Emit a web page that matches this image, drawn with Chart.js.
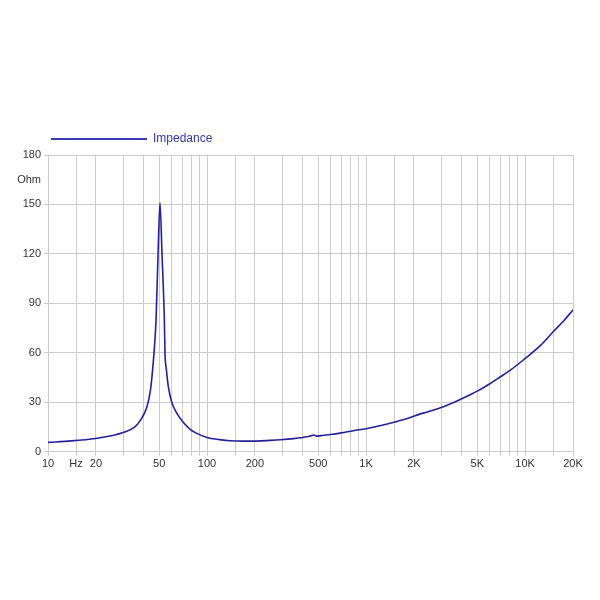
<!DOCTYPE html>
<html lang="en">

<head>
    <meta charset="UTF-8">
    <title>Impedance</title>
    <script src="https://cdn.jsdelivr.net/npm/chart.js@4.4.0/dist/chart.umd.min.js"></script>
    <style>
        html, body { margin: 0; padding: 0; background: #fff; }
        #wrap { width: 600px; height: 600px; }
    </style>
</head>

<body>
    <div id="wrap"><canvas id="chart" width="600" height="600"></canvas></div>

    <script>
        // data
        const freqs = [10, 14, 20, 25, 30, 35, 38, 41.8, 44, 45, 46.4, 47.8, 49.2, 50.6, 52.1, 53.9, 54.4, 55.5, 57, 60, 65, 70, 78, 85, 100, 120, 140, 170, 205, 250, 290, 350, 400, 440, 468, 490, 520, 600, 700, 830, 1000, 1200, 1500, 1800, 2200, 2400, 2600, 3000, 3400, 4000, 5000, 6000, 7000, 8000, 10000, 12500, 15000, 17500, 20000]
        const impedance = [5.7, 6.6, 8.1, 9.7, 11.8, 15, 18.9, 27, 37, 45, 60, 80, 120, 151, 120, 80, 60, 50, 40, 30, 23, 18.5, 13.8, 11.5, 8.7, 7.4, 6.7, 6.5, 6.5, 6.9, 7.3, 8, 8.7, 9.4, 10.2, 9.5, 9.8, 10.5, 11.5, 12.8, 14, 15.6, 17.9, 20, 23, 24, 25, 27, 29.1, 32.2, 36.8, 41.3, 45.5, 49.2, 56.6, 64.5, 72.8, 79.5, 86]

        const xTicks = [10, 15, 20, 30, 40, 50, 60, 70, 80, 90, 100, 150, 200, 300, 400, 500, 600, 700, 800, 900,
            1000, 1500, 2000, 3000, 4000, 5000, 6000, 7000, 8000, 9000, 10000, 15000, 20000]
        const xLabels = { 10: '10', 15: 'Hz', 20: '20', 50: '50', 100: '100', 200: '200', 500: '500', 1000: '1K', 2000: '2K', 5000: '5K', 10000: '10K', 20000: '20K' }
        const yTicks = [0, 30, 60, 90, 120, 150, 165, 180]
        const yLabels = { 165: 'Ohm' }

        const gridColor = '#cccccc'
        const points = freqs.map((f, i) => ({ x: f, y: impedance[i] }))

        const ctx = document.getElementById('chart').getContext('2d');
        const myChart = new Chart(ctx, {
            type: 'line',
            data: {
                datasets: [{
                    label: 'Impedance',
                    data: points,
                    borderColor: '#22229a',
                    backgroundColor: '#3535b0',
                    borderWidth: 1.6,
                    pointRadius: 0,
                    cubicInterpolationMode: 'monotone'
                }]
            },
            options: {
                responsive: false,
                animation: false,
                layout: { padding: { left: 0, right: 27, top: 130, bottom: 127 } },
                plugins: {
                    legend: {
                        align: 'start',
                        fullSize: false,
                        labels: {
                            boxWidth: 96,
                            boxHeight: 2,
                            padding: 3,
                            color: '#3535b0',
                            font: { family: 'Liberation Sans', size: 12 },
                            generateLabels: chart => Chart.defaults.plugins.legend.labels.generateLabels(chart)
                                .map(l => Object.assign(l, { lineWidth: 0, fillStyle: '#3a3ab4' }))
                        }
                    },
                    tooltip: { enabled: false }
                },
                scales: {
                    x: {
                        type: 'logarithmic',
                        min: 10,
                        max: 20000,
                        afterBuildTicks: s => { s.ticks = xTicks.map(v => ({ value: v })) },
                        ticks: {
                            autoSkip: false,
                            maxRotation: 0,
                            color: '#333',
                            padding: 2,
                            font: { family: 'Liberation Sans', size: 11 },
                            callback: v => xLabels[v] || ''
                        },
                        grid: { color: gridColor, tickLength: 4 },
                        border: { color: gridColor }
                    },
                    y: {
                        min: 0,
                        max: 180,
                        afterBuildTicks: s => { s.ticks = yTicks.map(v => ({ value: v })) },
                        afterFit: s => { s.width = 48 },
                        ticks: {
                            autoSkip: false,
                            color: '#333',
                            padding: 3,
                            font: { family: 'Liberation Sans', size: 11 },
                            callback: v => yLabels[v] || String(v)
                        },
                        grid: {
                            color: c => (c.tick && c.tick.value === 165) ? 'rgba(0,0,0,0)' : gridColor,
                            tickLength: 4
                        },
                        border: { color: gridColor }
                    }
                }
            }
        });
    </script>

</body>

</html>
